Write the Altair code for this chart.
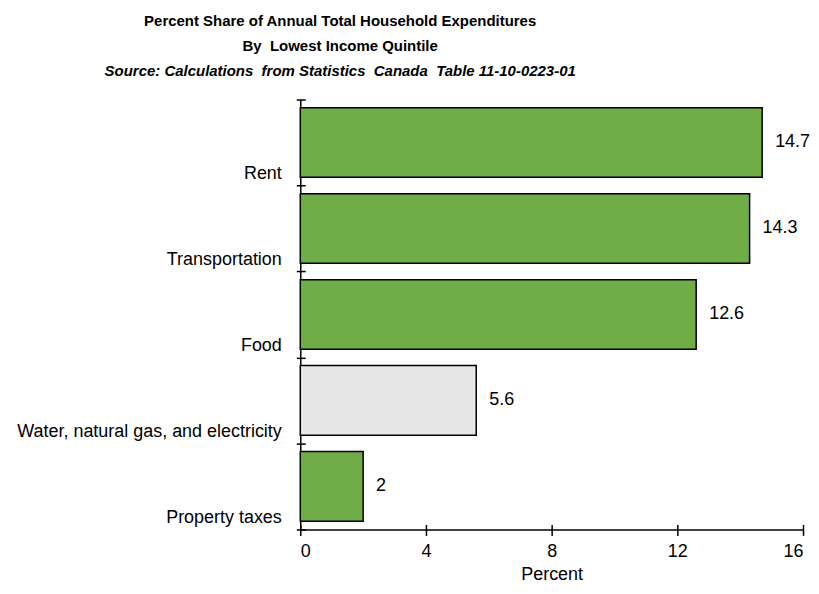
import altair as alt
import pandas as pd

categories = ["Rent", "Transportation", "Food", "Water, natural gas, and electricity", "Property taxes"]
values = [14.7, 14.3, 12.6, 5.6, 2]
x_ticks = [0, 4, 8, 12, 16]
highlight = "Water, natural gas, and electricity"

df = pd.DataFrame({"category": categories, "value": values})

FONT = "Arial, Liberation Sans, sans-serif"

yscale_bars = alt.Scale(domain=categories, paddingInner=0.19, paddingOuter=0.095)
yscale_ticks = alt.Scale(domain=categories, paddingInner=0, paddingOuter=0)
xscale = alt.Scale(domain=[0, 16], nice=False)

bars = alt.Chart(df).mark_bar(stroke="black", strokeWidth=1.5).encode(
    x=alt.X("value:Q", scale=xscale,
            axis=alt.Axis(orient="bottom", title="Percent", values=x_ticks, ticks=False,
                          domain=True, domainColor="black", domainWidth=1.5,
                          labelFontSize=18, labelColor="black", labelFont=FONT, labelPadding=13,
                          titleFontSize=18, titleFontWeight="normal", titleColor="black",
                          titleFont=FONT, titlePadding=5, grid=False)),
    y=alt.Y("category:N", scale=yscale_bars, sort=categories,
            axis=alt.Axis(orient="left", title=None, ticks=False, domain=True,
                          domainColor="black", domainWidth=1.5,
                          labelFontSize=18, labelColor="black", labelFont=FONT,
                          labelAlign="right", labelBaseline="middle", labelOffset=32,
                          labelPadding=19, labelLimit=400, minExtent=288, maxExtent=288)),
    color=alt.condition(alt.datum.category == highlight, alt.value("#E6E6E6"), alt.value("#70AD47")),
)

labels = alt.Chart(df).mark_text(align="left", baseline="middle", dx=13, fontSize=18,
                                 font=FONT, color="black").encode(
    x=alt.X("value:Q", scale=xscale,
            axis=alt.Axis(orient="bottom", values=x_ticks, domain=False, ticks=True, tickSize=11,
                          tickWidth=1.5, tickColor="black", offset=-5, labels=False,
                          title=None, grid=False)),
    y=alt.Y("category:N", scale=yscale_ticks, sort=categories,
            axis=alt.Axis(orient="left", domain=False, ticks=True, tickSize=9, tickWidth=1.5,
                          tickColor="black", offset=-5, labels=False, title=None,
                          tickBand="extent", grid=False, minExtent=0)),
    text=alt.Text("value:Q"),
)

chart = alt.layer(bars, labels).resolve_scale(y="independent").resolve_axis(
    x="independent", y="independent"
).properties(
    width=504, height=431,
    padding={"left": 5, "top": 5, "right": 0, "bottom": 0},
    title=alt.TitleParams(
        text=["Percent Share of Annual Total Household Expenditures", "By\u00a0 Lowest Income Quintile"],
        subtitle="Source: Calculations\u00a0 from Statistics\u00a0 Canada\u00a0 Table 11-10-0223-01",
        fontSize=15, font=FONT, fontWeight="bold", color="black", lineHeight=25,
        subtitleFontSize=15, subtitleFont=FONT, subtitleFontWeight="bold",
        subtitleFontStyle="italic", subtitleColor="black", subtitlePadding=10,
        anchor="middle", frame="group", dx=-212, offset=20,
    ),
).configure_view(stroke=None)

chart.save("out.html", embed_options={"renderer": "svg", "actions": False})
